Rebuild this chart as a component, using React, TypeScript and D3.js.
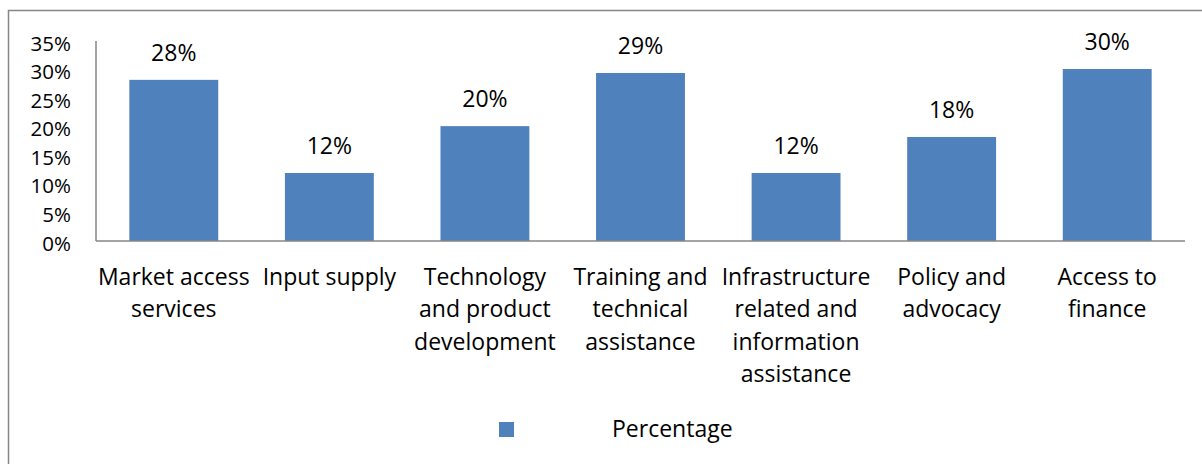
import React from 'react';
import * as d3 from 'd3';

const categories = [
  ['Market access', 'services'],
  ['Input supply'],
  ['Technology', 'and product', 'development'],
  ['Training and', 'technical', 'assistance'],
  ['Infrastructure', 'related and', 'information', 'assistance'],
  ['Policy and', 'advocacy'],
  ['Access to', 'finance'],
];
const values = [28.2, 11.9, 20.1, 29.4, 11.9, 18.2, 30.1];
const labels = ['28%', '12%', '20%', '29%', '12%', '18%', '30%'];
const yTicks = [0, 5, 10, 15, 20, 25, 30, 35];
const seriesName = 'Percentage';

const W = 1202;
const H = 464;
const FONT = '"Open Sans", Lato, sans-serif';
const FS = 23;
const TICK_FS = 20.5;
const BAR = '#4F81BD';
const GRAY = '#868686';

export default function App() {
  const left = 96;
  const right = 1185;
  const top = 41;
  const bottom = 241;

  const x = d3.scaleBand<number>()
    .domain(d3.range(values.length))
    .range([left, right])
    .paddingInner(0.75 / 1.75)
    .paddingOuter(0.75 / 3.5);

  const y = d3.scaleLinear().domain([0, 35]).range([bottom, top]);

  return (
    <svg width={W} height={H} style={{ position: 'absolute', left: 0, top: 0 }} fontFamily={FONT}>
      <rect x={0} y={0} width={W} height={H} fill="#fff" />
      <rect x={8.5} y={10.5} width={W + 10} height={H + 10} fill="none" stroke={GRAY} strokeWidth={1.5} />

      {yTicks.map(t => (
        <text key={t} x={71} y={y(t) + 1.5} textAnchor="end" dominantBaseline="central" fontSize={TICK_FS} fill="#000">
          {t}%
        </text>
      ))}

      {values.map((v, i) => (
        <g key={i}>
          <rect x={x(i)} y={y(v)} width={x.bandwidth()} height={bottom - y(v)} fill={BAR} />
          <text x={(x(i) || 0) + x.bandwidth() / 2} y={y(v) - 19} textAnchor="middle" fontSize={FS} fill="#000">
            {labels[i]}
          </text>
          {categories[i].map((line, j) => (
            <text key={j} x={(x(i) || 0) + x.bandwidth() / 2} y={285 + j * 32.3} textAnchor="middle" fontSize={FS} fill="#000">
              {line}
            </text>
          ))}
        </g>
      ))}

      <line x1={left} x2={left} y1={top} y2={bottom} stroke={GRAY} strokeWidth={1.5} />
      <line x1={left} x2={right} y1={bottom} y2={bottom} stroke={GRAY} strokeWidth={1.5} />

      <rect x={499} y={422} width={15} height={15} fill={BAR} />
      <text x={612} y={437} fontSize={FS} fill="#000">{seriesName}</text>
    </svg>
  );
}
